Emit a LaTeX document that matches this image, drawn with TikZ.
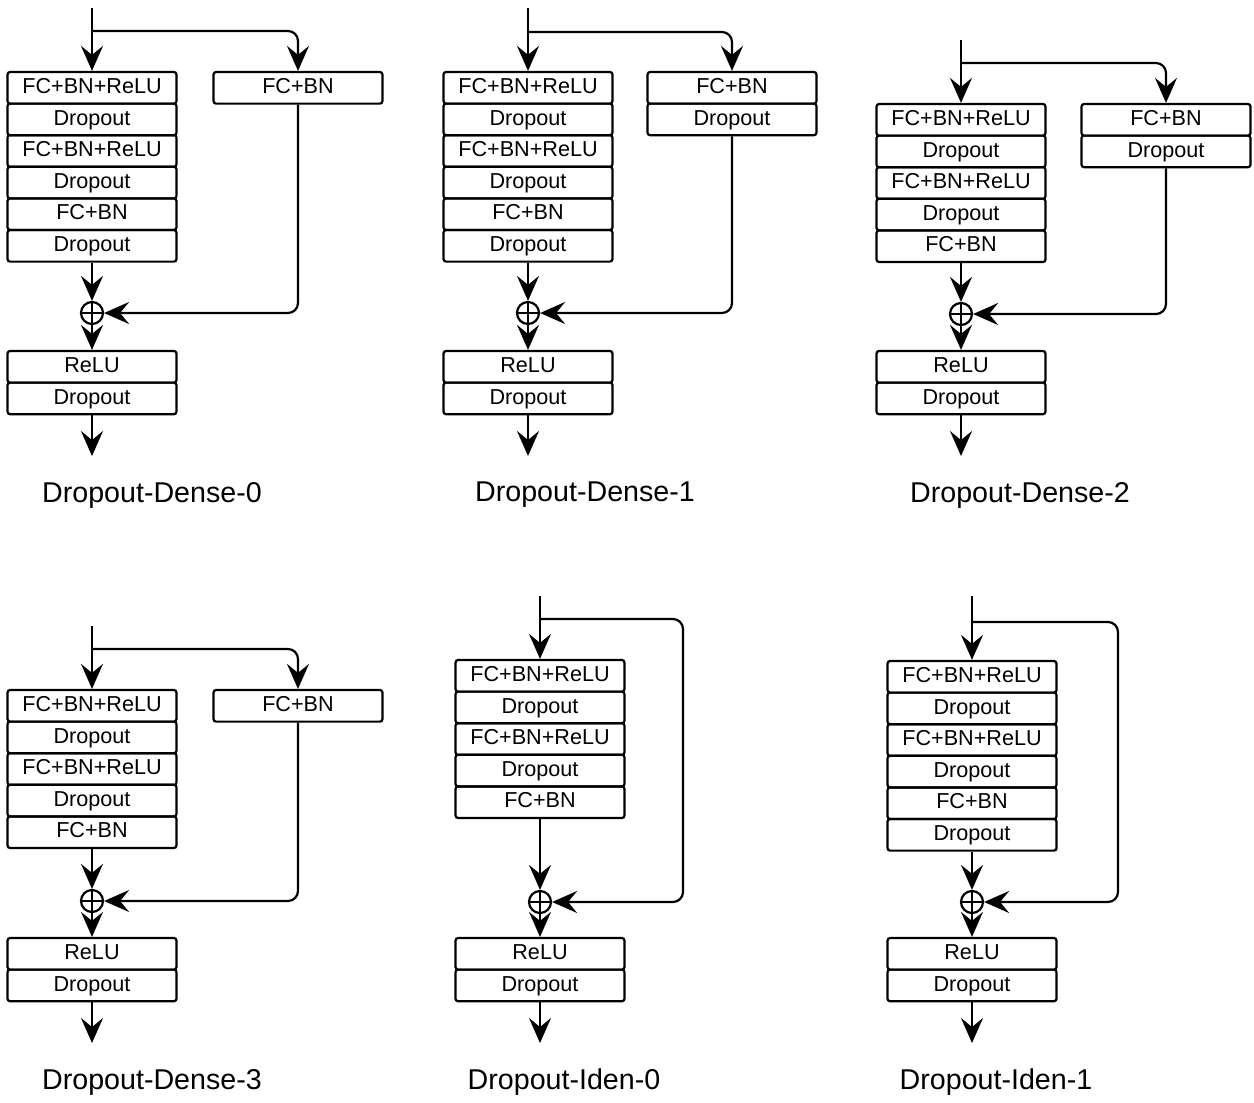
\documentclass[tikz,border=0pt]{standalone}
\usepackage{fontspec}
\setmainfont{Liberation Sans}
\usetikzlibrary{arrows.meta}
\tikzset{
  box/.style={draw, line width=1.25pt, rounded corners=0.05cm, minimum width=3.38cm, minimum height=0.632cm, inner sep=0pt, text height=8.8pt, text depth=2.4pt, font=\fontsize{12.3}{14}\selectfont},
  arr/.style={line width=1.25pt, -{Stealth[length=0.5cm,width=0.44cm,inset=0.18cm]}},
  ln/.style={line width=1.25pt},
  plus/.style={draw, circle, line width=1.25pt, minimum size=0.44cm, inner sep=0pt},
  lab/.style={font=\fontsize{16.3}{19}\selectfont},
  rc/.style={rounded corners=0.2cm}
}
\newcommand\mkstack[4]{%
  \foreach \t [count=\i] in {#4} \node[box] (#1\i) at (#2,{#3+15.8+31.6*(\i-1)}) {\t};}
\newcommand\mkplus[3]{%
  \node[plus] (#1) at (#2,#3) {};
  \draw[ln] (#1.north) -- (#1.south) (#1.west) -- (#1.east);}
\begin{document}
\begin{tikzpicture}[x=0.02cm,y=-0.02cm]
\useasboundingbox (0,0) rectangle (1254,1102);

% ---------- Panel 1: Dropout-Dense-0
\mkstack{P1L}{92}{72}{FC+BN+ReLU,Dropout,FC+BN+ReLU,Dropout,FC+BN,Dropout}
\mkstack{P1R}{298}{72}{FC+BN}
\mkstack{P1B}{92}{351}{ReLU,Dropout}
\mkplus{P1plus}{92}{313}
\coordinate (P1in) at (92,8);
\coordinate (P1br) at (92,31);
\coordinate (P1out) at (92,456);
\draw[arr] (P1in) -- (P1L1.north);
\draw[arr,rc] (P1br) -| (P1R1.north);
\draw[arr] (P1L6.south) -- (P1plus.north);
\draw[arr,rc] (P1R1.south) |- (P1plus.east);
\draw[arr] (P1plus.south) -- (P1B1.north);
\draw[arr] (P1B2.south) -- (P1out);
\node[lab] (P1lab) at (152,495) {Dropout-Dense-0};

% ---------- Panel 2: Dropout-Dense-1
\mkstack{P2L}{528}{72}{FC+BN+ReLU,Dropout,FC+BN+ReLU,Dropout,FC+BN,Dropout}
\mkstack{P2R}{732}{72}{FC+BN,Dropout}
\mkstack{P2B}{528}{351}{ReLU,Dropout}
\mkplus{P2plus}{528}{313}
\coordinate (P2in) at (528,8);
\coordinate (P2br) at (528,32);
\coordinate (P2out) at (528,456);
\draw[arr] (P2in) -- (P2L1.north);
\draw[arr,rc] (P2br) -| (P2R1.north);
\draw[arr] (P2L6.south) -- (P2plus.north);
\draw[arr,rc] (P2R2.south) |- (P2plus.east);
\draw[arr] (P2plus.south) -- (P2B1.north);
\draw[arr] (P2B2.south) -- (P2out);
\node[lab] (P2lab) at (585,495) {Dropout-Dense-1};

% ---------- Panel 3: Dropout-Dense-2
\mkstack{P3L}{961}{104}{FC+BN+ReLU,Dropout,FC+BN+ReLU,Dropout,FC+BN}
\mkstack{P3R}{1166}{104}{FC+BN,Dropout}
\mkstack{P3B}{961}{351}{ReLU,Dropout}
\mkplus{P3plus}{961}{314}
\coordinate (P3in) at (961,40);
\coordinate (P3br) at (961,63);
\coordinate (P3out) at (961,456);
\draw[arr] (P3in) -- (P3L1.north);
\draw[arr,rc] (P3br) -| (P3R1.north);
\draw[arr] (P3L5.south) -- (P3plus.north);
\draw[arr,rc] (P3R2.south) |- (P3plus.east);
\draw[arr] (P3plus.south) -- (P3B1.north);
\draw[arr] (P3B2.south) -- (P3out);
\node[lab] (P3lab) at (1020,495) {Dropout-Dense-2};

% ---------- Panel 4: Dropout-Dense-3
\mkstack{P4L}{92}{690}{FC+BN+ReLU,Dropout,FC+BN+ReLU,Dropout,FC+BN}
\mkstack{P4R}{298}{690}{FC+BN}
\mkstack{P4B}{92}{938}{ReLU,Dropout}
\mkplus{P4plus}{92}{901}
\coordinate (P4in) at (92,626);
\coordinate (P4br) at (92,649);
\coordinate (P4out) at (92,1043);
\draw[arr] (P4in) -- (P4L1.north);
\draw[arr,rc] (P4br) -| (P4R1.north);
\draw[arr] (P4L5.south) -- (P4plus.north);
\draw[arr,rc] (P4R1.south) |- (P4plus.east);
\draw[arr] (P4plus.south) -- (P4B1.north);
\draw[arr] (P4B2.south) -- (P4out);
\node[lab] (P4lab) at (152,1082) {Dropout-Dense-3};

% ---------- Panel 5: Dropout-Iden-0
\mkstack{P5L}{540}{660}{FC+BN+ReLU,Dropout,FC+BN+ReLU,Dropout,FC+BN}
\mkstack{P5B}{540}{938}{ReLU,Dropout}
\mkplus{P5plus}{540}{902}
\coordinate (P5in) at (540,596);
\coordinate (P5br) at (540,619);
\coordinate (P5cr) at (683,619);
\coordinate (P5out) at (540,1043);
\draw[arr] (P5in) -- (P5L1.north);
\draw[arr,rc] (P5br) -- (P5cr) |- (P5plus.east);
\draw[arr] (P5L5.south) -- (P5plus.north);
\draw[arr] (P5plus.south) -- (P5B1.north);
\draw[arr] (P5B2.south) -- (P5out);
\node[lab] (P5lab) at (564,1082) {Dropout-Iden-0};

% ---------- Panel 6: Dropout-Iden-1
\mkstack{P6L}{972}{661}{FC+BN+ReLU,Dropout,FC+BN+ReLU,Dropout,FC+BN,Dropout}
\mkstack{P6B}{972}{938}{ReLU,Dropout}
\mkplus{P6plus}{972}{902}
\coordinate (P6in) at (972,596);
\coordinate (P6br) at (972,622);
\coordinate (P6cr) at (1118,622);
\coordinate (P6out) at (972,1043);
\draw[arr] (P6in) -- (P6L1.north);
\draw[arr,rc] (P6br) -- (P6cr) |- (P6plus.east);
\draw[arr] (P6L6.south) -- (P6plus.north);
\draw[arr] (P6plus.south) -- (P6B1.north);
\draw[arr] (P6B2.south) -- (P6out);
\node[lab] (P6lab) at (996,1082) {Dropout-Iden-1};
\end{tikzpicture}
\end{document}
